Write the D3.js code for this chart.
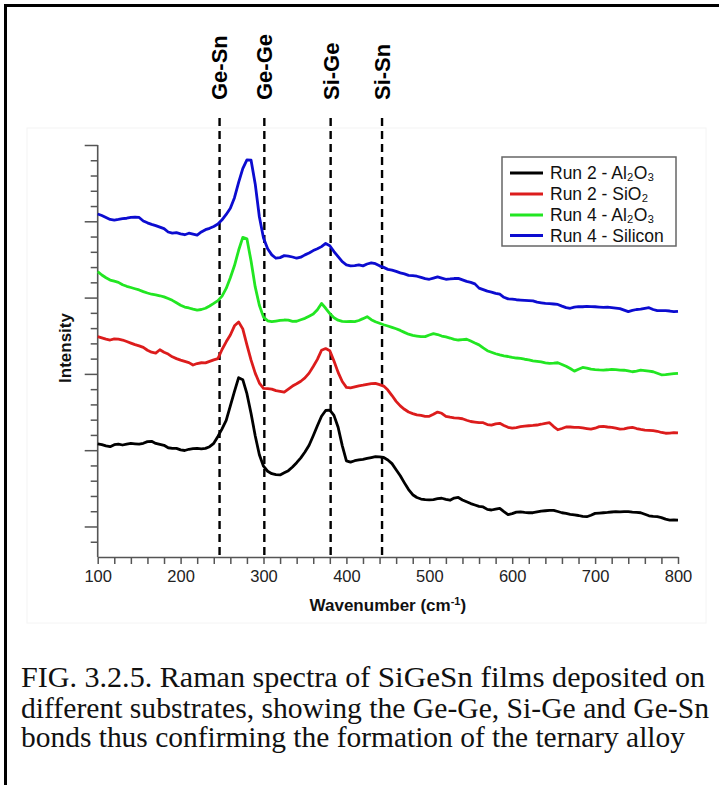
<!DOCTYPE html>
<html><head><meta charset="utf-8">
<script src="https://cdn.jsdelivr.net/npm/d3@7"></script>
<style>body{margin:0;background:#fff;} svg{display:block;}</style>
</head><body>
<svg id="chart" width="719" height="785"></svg>
<script>
// ---- data (intensity in arbitrary units) ----
const wavenumbers = d3.range(100, 801, 5);
const run2Al2O3 = [
7.41,7.36,7.28,7.23,7.36,7.40,7.34,7.40,7.44,7.42,
7.40,7.45,7.56,7.58,7.44,7.38,7.32,7.16,7.12,7.12,
7.02,6.98,7.06,7.10,7.12,7.08,7.12,7.23,7.45,7.90,
8.40,8.95,9.90,10.85,11.75,11.62,10.70,9.40,7.95,6.70,
5.95,5.62,5.46,5.40,5.38,5.52,5.66,5.90,6.18,6.50,
6.88,7.32,7.95,8.60,9.22,9.60,9.62,9.28,8.50,7.30,
6.30,6.22,6.31,6.36,6.40,6.46,6.52,6.58,6.56,6.52,
6.36,6.12,5.72,5.32,4.86,4.42,4.08,3.90,3.80,3.76,
3.74,3.76,3.82,3.85,3.78,3.72,3.86,3.90,3.74,3.62,
3.50,3.41,3.32,3.28,3.12,3.08,3.14,3.19,2.98,2.78,
2.84,2.94,2.96,2.92,2.90,2.90,2.95,3.00,3.03,3.06,
3.06,2.98,2.90,2.86,2.80,2.76,2.72,2.66,2.64,2.74,
2.86,2.88,2.90,2.92,2.95,2.97,2.96,2.97,2.97,2.94,
2.92,2.90,2.80,2.70,2.66,2.64,2.58,2.48,2.42,2.43,
2.42];
const run2SiO2 = [
14.44,14.36,14.28,14.22,14.30,14.28,14.22,14.12,14.02,13.92,
13.84,13.74,13.55,13.42,13.36,13.58,13.42,13.30,13.12,13.00,
12.90,12.82,12.74,12.58,12.68,12.73,12.72,12.82,12.92,13.00,
13.60,14.10,14.55,15.15,15.40,14.95,13.90,12.90,12.05,11.40,
11.05,11.04,11.00,10.90,10.86,10.80,11.00,11.20,11.35,11.52,
11.74,12.05,12.48,12.95,13.55,13.66,13.52,12.85,12.10,11.50,
11.12,11.08,11.15,11.22,11.26,11.32,11.36,11.38,11.30,11.20,
10.94,10.58,10.20,9.90,9.68,9.50,9.40,9.32,9.28,9.22,
9.22,9.35,9.50,9.42,9.22,9.16,9.12,9.10,9.06,8.96,
8.88,8.84,8.80,8.80,8.68,8.64,8.72,8.76,8.62,8.50,
8.44,8.48,8.54,8.58,8.60,8.62,8.65,8.70,8.76,8.80,
8.55,8.34,8.42,8.52,8.52,8.50,8.50,8.46,8.42,8.38,
8.44,8.54,8.56,8.52,8.50,8.44,8.38,8.40,8.46,8.50,
8.42,8.36,8.32,8.30,8.28,8.24,8.16,8.11,8.12,8.15,
8.13];
const run4Al2O3 = [
18.70,18.48,18.30,18.15,18.08,18.00,17.84,17.74,17.66,17.58,
17.50,17.39,17.30,17.22,17.18,17.12,17.05,16.94,16.82,16.66,
16.50,16.38,16.32,16.24,16.18,16.22,16.30,16.45,16.62,16.80,
17.10,17.60,18.30,19.10,20.10,20.95,20.85,19.40,17.70,16.50,
15.72,15.48,15.42,15.46,15.50,15.53,15.52,15.44,15.45,15.55,
15.64,15.78,15.92,16.20,16.62,16.30,15.95,15.68,15.52,15.44,
15.42,15.44,15.42,15.50,15.62,15.75,15.55,15.42,15.32,15.22,
15.14,15.05,14.96,14.85,14.72,14.60,14.52,14.48,14.44,14.44,
14.55,14.64,14.58,14.48,14.42,14.35,14.26,14.22,14.25,14.27,
14.15,14.02,13.90,13.70,13.52,13.42,13.32,13.24,13.18,13.14,
13.08,13.04,13.02,12.96,12.92,12.86,12.82,12.78,12.72,12.69,
12.70,12.73,12.62,12.50,12.35,12.18,12.30,12.42,12.38,12.31,
12.28,12.26,12.25,12.27,12.30,12.28,12.25,12.24,12.20,12.14,
12.18,12.24,12.22,12.18,12.14,12.04,11.94,11.95,11.99,12.02,
12.04];
const run4Silicon = [
22.48,22.38,22.25,22.12,22.08,22.12,22.17,22.20,22.25,22.28,
22.25,22.02,21.90,21.80,21.72,21.62,21.52,21.30,21.22,21.26,
21.18,21.12,21.22,21.16,21.10,21.30,21.45,21.54,21.66,21.82,
22.10,22.45,22.85,23.55,24.55,25.45,26.02,26.00,24.45,22.30,
20.90,20.20,19.80,19.58,19.62,19.75,19.72,19.66,19.58,19.65,
19.80,19.92,20.08,20.20,20.34,20.55,20.40,20.02,19.68,19.35,
19.15,19.08,19.10,19.14,19.08,19.20,19.28,19.22,19.08,18.98,
18.85,18.80,18.72,18.62,18.55,18.46,18.44,18.40,18.32,18.24,
18.20,18.28,18.36,18.28,18.20,18.22,18.25,18.26,18.16,18.06,
18.00,17.90,17.62,17.52,17.42,17.36,17.28,17.22,17.02,16.92,
16.90,16.86,16.84,16.82,16.80,16.78,16.70,16.66,16.62,16.60,
16.58,16.55,16.44,16.34,16.30,16.38,16.41,16.40,16.43,16.41,
16.40,16.38,16.36,16.37,16.34,16.31,16.28,16.18,16.08,16.16,
16.22,16.24,16.30,16.34,16.22,16.14,16.15,16.14,16.12,16.08,
16.10];

const seriesNames = ["Run 2 - Al₂O₃", "Run 2 - SiO₂", "Run 4 - Al₂O₃", "Run 4 - Silicon"];
const seriesColors = ["#000000", "#dc1c1c", "#22e622", "#0c0cd0"];
const seriesData = [run2Al2O3, run2SiO2, run4Al2O3, run4Silicon];

const bondNames = ["Ge-Sn", "Ge-Ge", "Si-Ge", "Si-Sn"];
const bondPositions = [247, 301, 381, 443];

const xTickLabels = ["100","200","300","400","500","600","700","800"];
const xMinorTicks = d3.range(100, 801, 20);
const yMajorTicks = [2, 7, 12, 17, 22, 27];
const yMinorTicks = d3.range(1, 27).filter(v => !yMajorTicks.includes(v));

const captionLines = [
  ["FIG. 3.2.5. Raman spectra of ", "SiGeSn films", " deposited on"],
  ["different substrates, showing the Ge-Ge, Si-Ge and Ge-Sn"],
  ["bonds thus confirming the formation of the ternary alloy"]
];

// ---- drawing ----
const svg = d3.select("#chart");
const SANS = "'Liberation Sans', Arial, Helvetica, sans-serif";
const SERIF = "'Liberation Serif', 'Times New Roman', serif";

svg.append("rect").attr("width", 719).attr("height", 785).attr("fill", "#fff");
// frame (top & left edges visible)
svg.append("line").attr("x1", 5.5).attr("x2", 5.5).attr("y1", 4).attr("y2", 785)
  .attr("stroke", "#000").attr("stroke-width", 3);
svg.append("line").attr("x1", 4).attr("x2", 719).attr("y1", 5.5).attr("y2", 5.5)
  .attr("stroke", "#000").attr("stroke-width", 3);
// faint inner panel
svg.append("rect").attr("x", 27).attr("y", 128).attr("width", 679).attr("height", 495)
  .attr("fill", "none").attr("stroke", "#f4f4f4").attr("stroke-width", 1);

const x = d3.scaleLinear().domain([100, 800]).range([97.7, 678]);
const y = d3.scaleLinear().domain([0, 27]).range([557, 145]);

const axisColor = "#555";

// x axis
const gx = svg.append("g").attr("transform", `translate(0,${y(0)})`)
  .call(d3.axisBottom(x).tickValues(xMinorTicks).tickSize(7).tickSizeOuter(0)
    .tickFormat(d => xTickLabels.includes(String(d)) ? String(d) : ""));
gx.select(".domain").attr("stroke", axisColor).attr("stroke-width", 1.6);
gx.selectAll(".tick line").attr("stroke", axisColor).attr("stroke-width", 1.5);
gx.selectAll(".tick text").attr("font-family", SANS).attr("font-size", 16.5)
  .attr("fill", "#222").attr("y", 13).attr("dy", "0.71em");

// y axis
const gy = svg.append("g").attr("transform", `translate(${x(100)},0)`)
  .call(d3.axisLeft(y).tickValues(yMinorTicks).tickSize(7).tickSizeOuter(0).tickFormat(""));
gy.select(".domain").attr("stroke", axisColor).attr("stroke-width", 1.6)
  .attr("d", `M0,${y(27)}V${y(0)}`);
gy.selectAll(".tick line").attr("stroke", axisColor).attr("stroke-width", 1.5);
const gy2 = svg.append("g").attr("transform", `translate(${x(100)},0)`)
  .call(d3.axisLeft(y).tickValues(yMajorTicks).tickSize(13).tickSizeOuter(0).tickFormat(""));
gy2.select(".domain").remove();
gy2.selectAll(".tick line").attr("stroke", axisColor).attr("stroke-width", 1.5);

// axis titles
const xt = svg.append("text").attr("x", (x(100) + x(800)) / 2).attr("y", 611)
  .attr("text-anchor", "middle").attr("font-family", SANS).attr("font-weight", "bold")
  .attr("font-size", 17).attr("fill", "#111");
xt.append("tspan").text("Wavenumber (cm");
xt.append("tspan").attr("dy", -6).attr("font-size", 11).text("-1");
xt.append("tspan").attr("dy", 6).text(")");

svg.append("text").attr("transform", "translate(71,348) rotate(-90)")
  .attr("text-anchor", "middle").attr("font-family", SANS).attr("font-weight", "bold")
  .attr("font-size", 17).attr("fill", "#111").text("Intensity");

// dashed bond lines
svg.append("g").selectAll("line").data(bondPositions).join("line")
  .attr("x1", d => x(d)).attr("x2", d => x(d))
  .attr("y1", 118).attr("y2", y(0))
  .attr("stroke", "#000").attr("stroke-width", 2.4).attr("stroke-dasharray", "8,5");

svg.append("g").selectAll("text").data(bondNames).join("text")
  .attr("transform", (d, i) => `translate(${x(bondPositions[i])},100) rotate(-90)`)
  .attr("dy", "0.36em")
  .attr("font-family", SANS).attr("font-weight", "bold").attr("font-size", 22)
  .attr("fill", "#000").text(d => d);

// curves
const line = d3.line().x((d, i) => x(wavenumbers[i])).y(d => y(d)).curve(d3.curveLinear);
svg.append("g").selectAll("path").data(seriesData).join("path")
  .attr("d", d => line(d))
  .attr("fill", "none")
  .attr("stroke", (d, i) => seriesColors[i])
  .attr("stroke-width", 2.8)
  .attr("stroke-linejoin", "round");

// legend
const lg = svg.append("g");
lg.append("rect").attr("x", 502).attr("y", 157).attr("width", 174).attr("height", 89)
  .attr("fill", "#fff").attr("stroke", "#666").attr("stroke-width", 1.5);
const rowY = [173, 194, 215, 235.5];
lg.selectAll("line.key").data(seriesNames).join("line").attr("class", "key")
  .attr("x1", 510).attr("x2", 543).attr("y1", (d, i) => rowY[i]).attr("y2", (d, i) => rowY[i])
  .attr("stroke", (d, i) => seriesColors[i]).attr("stroke-width", 3);
lg.selectAll("text").data(seriesNames).join("text")
  .attr("x", 550).attr("y", (d, i) => rowY[i] + 6)
  .attr("font-family", SANS).attr("font-size", 17.5).attr("fill", "#111")
  .text(d => d);

// caption
const cap = svg.append("g").attr("font-family", SERIF).attr("fill", "#111");
const capY = [687, 718, 747];
const capWidths = [684, 688, 664];
captionLines.forEach((parts, i) => {
  const t = cap.append("text").attr("x", 21).attr("y", capY[i]).attr("font-size", 29)
    .attr("textLength", capWidths[i]).attr("lengthAdjust", "spacingAndGlyphs");
  parts.forEach(p => {
    const ts = t.append("tspan").text(p);
    if (p === "SiGeSn films") ts.attr("font-size", 30);
  });
});
</script>
</body></html>
